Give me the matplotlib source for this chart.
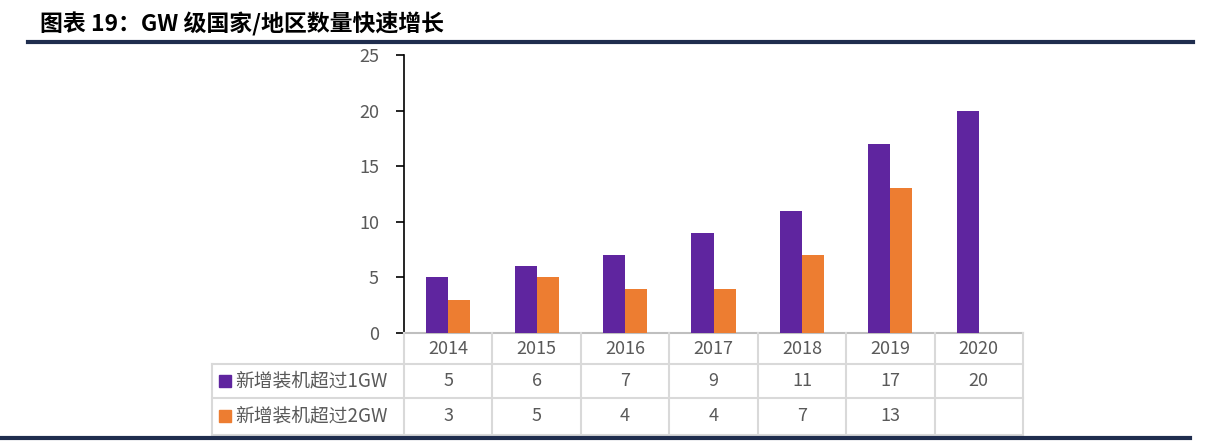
import matplotlib
matplotlib.use("Agg")
from matplotlib import pyplot as plt
from matplotlib.lines import Line2D
from matplotlib.patches import Rectangle
import matplotlib.transforms as mtransforms

plt.rcParams['font.family'] = ['Noto Sans CJK SC', 'DejaVu Sans']

# data
years = ['2014', '2015', '2016', '2017', '2018', '2019', '2020']
over_1gw = [5, 6, 7, 9, 11, 17, 20]
over_2gw = [3, 5, 4, 4, 7, 13, None]
series_names = ['新增装机超过1GW', '新增装机超过2GW']
title = '图表 19：GW 级国家/地区数量快速增长'

purple = '#5F259F'
orange = '#ED7D31'
grey_text = '#595959'
grid_col = '#D9D9D9'
navy = '#1F2D4E'

W, H = 1221, 442
fig = plt.figure(figsize=(W / 100, H / 100), dpi=100)

def fx(px):
    return px / W

def fy(py):
    return 1 - py / H

x_left, x_right = 404, 1023
y_top, y_bot = 55, 333
ax = fig.add_axes([fx(x_left), fy(y_bot), fx(x_right) - fx(x_left), fy(y_top) - fy(y_bot)])

n = len(years)
xs = list(range(n))
bw = 0.25
ax.bar([x - bw / 2 for x in xs], over_1gw, width=bw, color=purple, zorder=3)
xs2 = [x + bw / 2 for x, v in zip(xs, over_2gw) if v is not None]
v2 = [v for v in over_2gw if v is not None]
ax.bar(xs2, v2, width=bw, color=orange, zorder=3)

ax.set_xlim(-0.5, n - 0.5)
ax.set_ylim(0, 25)
ax.set_yticks([0, 5, 10, 15, 20, 25])
ax.set_xticks([])
for s in ['top', 'right']:
    ax.spines[s].set_visible(False)
ax.spines['left'].set_color('black')
ax.spines['left'].set_linewidth(1.2)
ax.spines['bottom'].set_color('#BFBFBF')
ax.spines['bottom'].set_linewidth(1.5)
ax.tick_params(axis='y', direction='out', length=6, width=1.2, color='black',
               labelsize=13, labelcolor=grey_text, pad=12)

# data table below the axes
tr = mtransforms.blended_transform_factory(ax.transData, fig.transFigure)
row_lines = [364, 398, 435]
row_centers = [349, 381, 416]
label_left = 212

for py in row_lines:
    fig.add_artist(Line2D([fx(label_left), fx(x_right)], [fy(py), fy(py)],
                          color=grid_col, lw=1.5, transform=fig.transFigure))
for k in range(n + 1):
    xb = k - 0.5
    fig.add_artist(Line2D([xb, xb], [fy(y_bot), fy(435)], color=grid_col, lw=1.5,
                          transform=tr))
fig.add_artist(Line2D([fx(label_left), fx(label_left)], [fy(364), fy(435)],
                      color=grid_col, lw=1.5, transform=fig.transFigure))

for i, yr in enumerate(years):
    fig.text(i, fy(row_centers[0]), yr, transform=tr, ha='center', va='center',
             fontsize=13, color=grey_text)
    fig.text(i, fy(row_centers[1]), str(over_1gw[i]), transform=tr, ha='center',
             va='center', fontsize=13, color=grey_text)
    if over_2gw[i] is not None:
        fig.text(i, fy(row_centers[2]), str(over_2gw[i]), transform=tr, ha='center',
                 va='center', fontsize=13, color=grey_text)

for name, col, cy in zip(series_names, [purple, orange], row_centers[1:]):
    fig.add_artist(Rectangle((fx(219), fy(cy + 6)), fx(12), 12 / H, color=col,
                             transform=fig.transFigure))
    fig.text(fx(235), fy(cy), name, ha='left', va='center', fontsize=13.5,
             color=grey_text)

# title and rules
fig.text(fx(40), fy(24), title, ha='left', va='center', fontsize=16.5,
         fontweight='bold', color='black')
fig.add_artist(Line2D([fx(28), fx(1193)], [fy(41.5), fy(41.5)], color=navy, lw=3,
                      transform=fig.transFigure))
fig.add_artist(Line2D([fx(0), fx(1190)], [fy(437.5), fy(437.5)], color=navy, lw=3,
                      transform=fig.transFigure))

fig.savefig('out.png', dpi=100)
